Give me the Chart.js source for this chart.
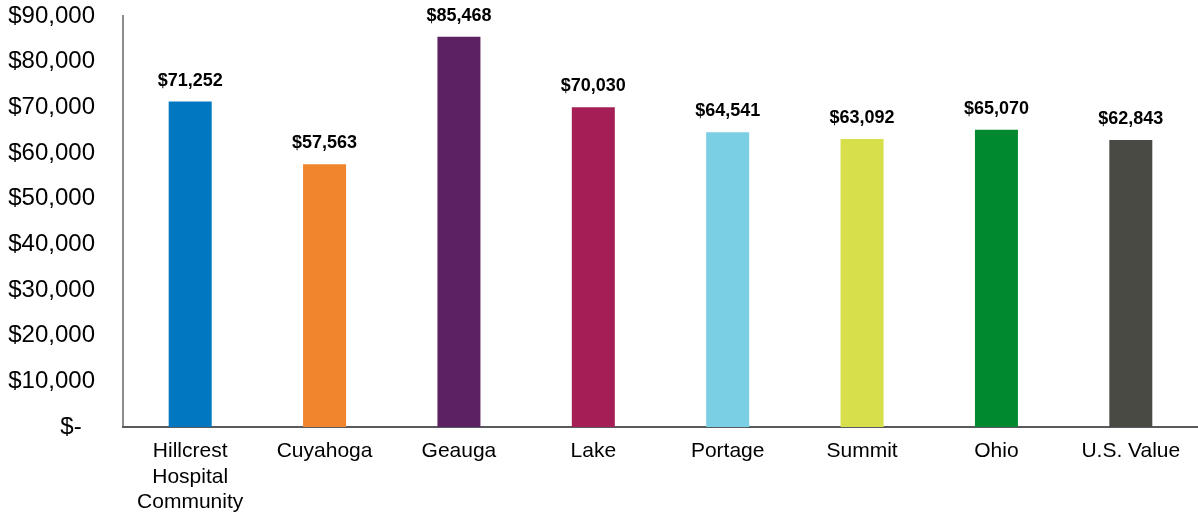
<!DOCTYPE html>
<html><head><meta charset="utf-8">
<script src="https://cdn.jsdelivr.net/npm/chart.js@4/dist/chart.umd.min.js"></script>
<style>html,body{margin:0;padding:0;background:#fff}#wrap{width:1198px;height:514px}</style>
</head><body><div id="wrap"><canvas id="c" width="1198" height="514"></canvas></div>
<script>
const categories = [["Hillcrest","Hospital","Community"],"Cuyahoga","Geauga","Lake","Portage","Summit","Ohio","U.S. Value"];
const values = [71252, 57563, 85468, 70030, 64541, 63092, 65070, 62843];
const colors = ["#0077C0","#F0852D","#5C2161","#A51F56","#7ACFE5","#D7DF4A","#00892F","#4A4A45"];
const yTicks = [0,10000,20000,30000,40000,50000,60000,70000,80000,90000];

const FONT = "'Liberation Sans', Arial, sans-serif";
const fmt = v => "$" + v.toLocaleString("en-US");
const labelPlugin = {
  id: "vlabels",
  afterDatasetsDraw(chart) {
    const ctx = chart.ctx;
    const meta = chart.getDatasetMeta(0);
    ctx.save();
    ctx.font = "bold 18px " + FONT;
    ctx.fillStyle = "#000";
    ctx.textAlign = "center";
    ctx.textBaseline = "middle";
    meta.data.forEach((bar, i) => {
      ctx.fillText(fmt(values[i]), bar.x, bar.y - 21);
    });
    ctx.restore();
  }
};

new Chart(document.getElementById("c"), {
  type: "bar",
  data: { labels: categories, datasets: [{ data: values, backgroundColor: colors, categoryPercentage: 1, barPercentage: 0.32 }] },
  options: {
    responsive: false, animation: false,
    layout: { padding: 0 },
    plugins: { legend: { display: false }, tooltip: { enabled: false } },
    scales: {
      y: {
        min: 0, max: 90000,
        afterBuildTicks(axis) { axis.ticks = yTicks.map(v => ({ value: v })); },
        afterFit(axis) { axis.width = 123; axis.paddingTop = 16; axis.paddingBottom = 0; },
        grid: { display: false, drawTicks: false },
        border: { display: true, color: "#8c8c8c", width: 2 },
        ticks: {
          padding: 28,
          color: "#000",
          font: { family: FONT, size: 24 },
          callback: v => v === 0 ? "$-  " : fmt(v)
        }
      },
      x: {
        afterFit(axis) { axis.height = 87; axis.paddingLeft = 0; axis.paddingRight = 0; },
        grid: { display: false, drawTicks: false },
        border: { display: true, color: "#5a5a5e", width: 2 },
        ticks: {
          padding: 12, maxRotation: 0, autoSkip: false,
          color: "#000",
          font: { family: FONT, size: 21, lineHeight: 1.2 }
        }
      }
    }
  },
  plugins: [labelPlugin]
});
</script></body></html>
